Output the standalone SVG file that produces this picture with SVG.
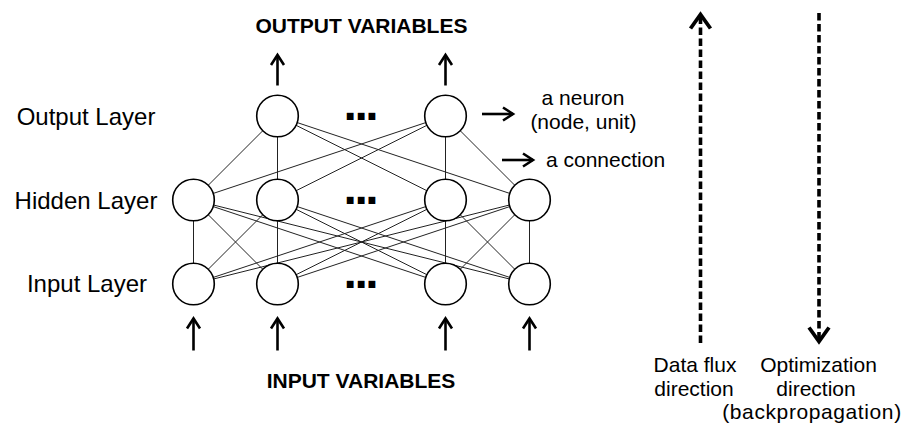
<svg xmlns="http://www.w3.org/2000/svg" width="915" height="423" viewBox="0 0 915 423">
<defs>
<style>
.node{fill:#fff;stroke:#000;stroke-width:1.6}
.conn{stroke:#222;stroke-width:1;fill:none}
.arr{stroke:#000;stroke-width:2.6;fill:none}
.dash{stroke:#000;stroke-width:3.6;fill:none;stroke-dasharray:7.5 3.5}
.lbl{font-family:"Liberation Sans",Arial,sans-serif;fill:#000}
.big{font-size:24px;text-anchor:middle}
.var{font-size:21px;font-weight:bold;text-anchor:middle}
.sm{font-size:21px}
.dir{font-size:21px;text-anchor:middle}
.dots{font-family:"Liberation Sans",Arial,sans-serif;font-weight:bold;font-size:48px;letter-spacing:-2.4px}
</style>
<marker id="head" markerUnits="userSpaceOnUse" orient="auto" refX="0" refY="0" markerWidth="20" markerHeight="20" overflow="visible">
<path d="M-10,-6.5 L0,0 L-10,6.5" fill="none" stroke="#000" stroke-width="2.6"/>
</marker>
<marker id="bighead" markerUnits="userSpaceOnUse" orient="auto" refX="0" refY="0" markerWidth="30" markerHeight="30" overflow="visible">
<path d="M-14,-10 L0,0 L-14,10" fill="none" stroke="#000" stroke-width="3.8"/>
</marker>
</defs>
<rect width="915" height="423" fill="#fff"/>

<g id="connectors">
<line class="conn" x1="277.5" y1="116" x2="193.5" y2="200"/>
<line class="conn" x1="277.5" y1="116" x2="277.5" y2="200"/>
<line class="conn" x1="277.5" y1="116" x2="445.5" y2="200"/>
<line class="conn" x1="277.5" y1="116" x2="529.5" y2="200"/>
<line class="conn" x1="445.5" y1="116" x2="193.5" y2="200"/>
<line class="conn" x1="445.5" y1="116" x2="277.5" y2="200"/>
<line class="conn" x1="445.5" y1="116" x2="445.5" y2="200"/>
<line class="conn" x1="445.5" y1="116" x2="529.5" y2="200"/>
<line class="conn" x1="193.5" y1="200" x2="193.5" y2="284"/>
<line class="conn" x1="193.5" y1="200" x2="277.5" y2="284"/>
<line class="conn" x1="193.5" y1="200" x2="445.5" y2="284"/>
<line class="conn" x1="193.5" y1="200" x2="529.5" y2="284"/>
<line class="conn" x1="277.5" y1="200" x2="193.5" y2="284"/>
<line class="conn" x1="277.5" y1="200" x2="277.5" y2="284"/>
<line class="conn" x1="277.5" y1="200" x2="445.5" y2="284"/>
<line class="conn" x1="277.5" y1="200" x2="529.5" y2="284"/>
<line class="conn" x1="445.5" y1="200" x2="193.5" y2="284"/>
<line class="conn" x1="445.5" y1="200" x2="277.5" y2="284"/>
<line class="conn" x1="445.5" y1="200" x2="445.5" y2="284"/>
<line class="conn" x1="445.5" y1="200" x2="529.5" y2="284"/>
<line class="conn" x1="529.5" y1="200" x2="193.5" y2="284"/>
<line class="conn" x1="529.5" y1="200" x2="277.5" y2="284"/>
<line class="conn" x1="529.5" y1="200" x2="445.5" y2="284"/>
<line class="conn" x1="529.5" y1="200" x2="529.5" y2="284"/>
<line class="arr" x1="277.5" y1="85.5" x2="277.5" y2="55" marker-end="url(#head)"/>
<line class="arr" x1="445.5" y1="85.5" x2="445.5" y2="55" marker-end="url(#head)"/>
<line class="arr" x1="193.5" y1="350.5" x2="193.5" y2="318.5" marker-end="url(#head)"/>
<line class="arr" x1="277.5" y1="350.5" x2="277.5" y2="318.5" marker-end="url(#head)"/>
<line class="arr" x1="445.5" y1="350.5" x2="445.5" y2="318.5" marker-end="url(#head)"/>
<line class="arr" x1="529.5" y1="350.5" x2="529.5" y2="318.5" marker-end="url(#head)"/>
<line class="arr" x1="482" y1="114" x2="513" y2="114" marker-end="url(#head)"/>
<line class="arr" x1="502" y1="160" x2="533" y2="160" marker-end="url(#head)"/>
<line class="dash" x1="700.5" y1="343" x2="700.5" y2="14.5" marker-end="url(#bighead)"/>
<line class="dash" x1="819" y1="13" x2="819" y2="341.5" marker-end="url(#bighead)"/>
</g>

<g id="output-layer">
<circle id="out1" class="node" cx="277.5" cy="116" r="20.8"/>
<circle id="out2" class="node" cx="445.5" cy="116" r="20.8"/>
</g>
<g id="hidden-layer">
<circle id="hid1" class="node" cx="193.5" cy="200" r="20.8"/>
<circle id="hid2" class="node" cx="277.5" cy="200" r="20.8"/>
<circle id="hid3" class="node" cx="445.5" cy="200" r="20.8"/>
<circle id="hid4" class="node" cx="529.5" cy="200" r="20.8"/>
</g>
<g id="input-layer">
<circle id="in1" class="node" cx="193.5" cy="284" r="20.8"/>
<circle id="in2" class="node" cx="277.5" cy="284" r="20.8"/>
<circle id="in3" class="node" cx="445.5" cy="284" r="20.8"/>
<circle id="in4" class="node" cx="529.5" cy="284" r="20.8"/>
</g>

<g id="ellipses">
<text class="dots" x="343.5" y="120">...</text>
<text class="dots" x="343.5" y="204">...</text>
<text class="dots" x="343.5" y="288">...</text>
</g>

<g id="labels">
<text class="lbl big" x="86" y="124.5">Output Layer</text>
<text class="lbl big" x="86" y="208.5">Hidden Layer</text>
<text class="lbl big" x="87" y="292">Input Layer</text>
<text class="lbl var" x="361.5" y="33.3">OUTPUT VARIABLES</text>
<text class="lbl var" x="361" y="387.7">INPUT VARIABLES</text>
<text class="lbl sm" x="583" y="105" text-anchor="middle">a neuron</text>
<text class="lbl sm" x="583.5" y="129" text-anchor="middle">(node, unit)</text>
<text class="lbl sm" x="546" y="166.5">a connection</text>
<text class="lbl dir" x="695" y="372">Data flux</text>
<text class="lbl dir" x="694" y="395.5">direction</text>
<text class="lbl dir" x="818.5" y="372">Optimization</text>
<text class="lbl dir" x="816" y="395.5">direction</text>
<text class="lbl dir" x="812" y="419" style="letter-spacing:0.6px">(backpropagation)</text>
</g>
</svg>
